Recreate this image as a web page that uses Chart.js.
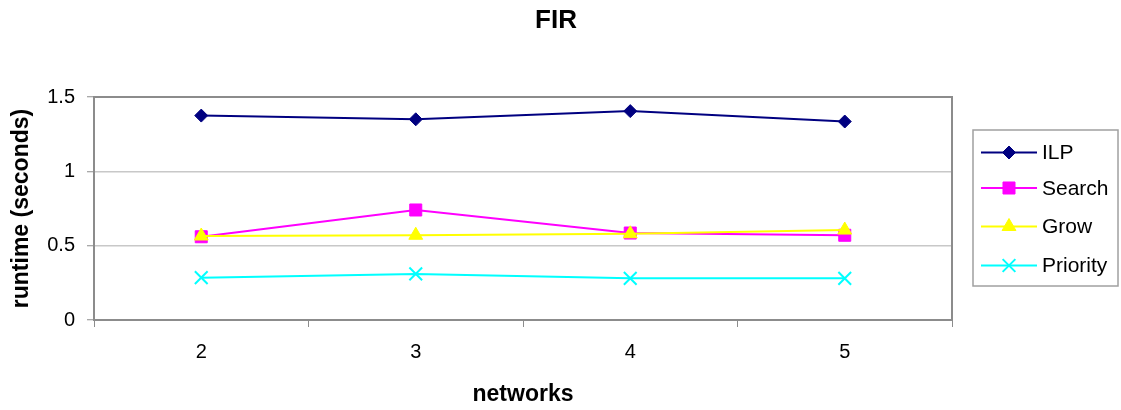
<!DOCTYPE html>
<html>
<head>
<meta charset="utf-8">
<script src="https://cdn.jsdelivr.net/npm/chart.js@4/dist/chart.umd.min.js"></script>
<style>
  html, body { margin: 0; padding: 0; background: #ffffff; }
  #wrap { width: 1121px; height: 410px; }
</style>
</head>
<body>
<div id="wrap"><canvas id="c" width="1121" height="410"></canvas></div>
<script>
// Runtime per number of networks for the FIR benchmark
const categories = ['2', '3', '4', '5'];
const ilp      = [1.375, 1.35, 1.405, 1.335];
const search   = [0.56, 0.74, 0.585, 0.57];
const grow     = [0.565, 0.57, 0.58, 0.605];
const priority = [0.285, 0.31, 0.28, 0.28];
const yTicks   = [0, 0.5, 1, 1.5];
const chartTitle = 'FIR';

const FONT = "'Liberation Sans', Arial, sans-serif";

// Chart heading, centred over the whole figure
const heading = {
  id: 'heading',
  afterDraw(chart) {
    const ctx = chart.ctx;
    ctx.save();
    ctx.fillStyle = '#000000';
    ctx.font = 'bold 26px ' + FONT;
    ctx.textAlign = 'center';
    ctx.textBaseline = 'middle';
    ctx.fillText(chartTitle, 556, 21);
    ctx.restore();
  }
};

// Legend drawn as line + marker swatches inside a framed box
const boxLegend = {
  id: 'boxLegend',
  afterDraw(chart) {
    const ctx = chart.ctx;
    const x0 = 973, y0 = 130, w = 145, h = 156;
    ctx.save();
    ctx.fillStyle = '#ffffff';
    ctx.fillRect(x0, y0, w, h);
    ctx.strokeStyle = '#a0a0a0';
    ctx.lineWidth = 1.5;
    ctx.strokeRect(x0, y0, w, h);
    const rows = [152.5, 188, 226.5, 265.5];
    chart.data.datasets.forEach((ds, i) => {
      const y = rows[i];
      ctx.strokeStyle = ds.borderColor;
      ctx.lineWidth = ds.borderWidth;
      ctx.beginPath();
      ctx.moveTo(981, y);
      ctx.lineTo(1037, y);
      ctx.stroke();
      ctx.fillStyle = ds.pointBackgroundColor;
      ctx.strokeStyle = ds.pointBorderColor;
      ctx.lineWidth = ds.pointBorderWidth;
      Chart.helpers.drawPoint(ctx, {
        pointStyle: ds.pointStyle,
        radius: ds.pointRadius,
        borderWidth: ds.pointBorderWidth,
        rotation: 0
      }, 1009, y);
      ctx.fillStyle = '#000000';
      ctx.font = '21px ' + FONT;
      ctx.textBaseline = 'middle';
      ctx.textAlign = 'left';
      ctx.fillText(ds.label, 1042, y + 1);
    });
    ctx.restore();
  }
};

// Top and right edges of the plot frame
const plotFrame = {
  id: 'plotFrame',
  beforeDatasetsDraw(chart) {
    const a = chart.chartArea;
    const ctx = chart.ctx;
    ctx.save();
    ctx.strokeStyle = '#8c8c8c';
    ctx.lineWidth = 2;
    ctx.beginPath();
    ctx.moveTo(a.left, a.top);
    ctx.lineTo(a.right, a.top);
    ctx.lineTo(a.right, a.bottom);
    ctx.stroke();
    ctx.restore();
  }
};

function series(label, data, color, style, radius, order) {
  return {
    label, data, order,
    borderColor: color,
    backgroundColor: color,
    borderWidth: 2,
    pointStyle: style,
    pointRadius: radius,
    pointHoverRadius: radius,
    pointBackgroundColor: color,
    pointBorderColor: color,
    pointBorderWidth: style === 'crossRot' ? 2 : 1,
    tension: 0,
    fill: false
  };
}

new Chart(document.getElementById('c'), {
  type: 'line',
  data: {
    labels: categories,
    datasets: [
      series('ILP', ilp, '#000080', 'rectRot', 6.5, 4),
      series('Search', search, '#ff00ff', 'rect', 8.5, 3),
      series('Grow', grow, '#ffff00', 'triangle', 8, 2),
      series('Priority', priority, '#00ffff', 'crossRot', 9, 1)
    ]
  },
  options: {
    responsive: false,
    animation: false,
    devicePixelRatio: 1,
    layout: { padding: { left: 0, right: 169, top: 97, bottom: 0 } },
    plugins: {
      legend: { display: false },
      tooltip: { enabled: false },
      title: { display: false }
    },
    scales: {
      x: {
        type: 'category',
        offset: true,
        grid: {
          offset: true,
          drawOnChartArea: false,
          drawTicks: true,
          tickLength: 7,
          tickColor: '#8c8c8c',
          tickWidth: 1
        },
        border: { color: '#8c8c8c', width: 2 },
        ticks: {
          color: '#000000',
          font: { family: FONT, size: 20 },
          padding: 13,
          maxRotation: 0
        },
        title: {
          display: true,
          text: 'networks',
          color: '#000000',
          font: { family: FONT, size: 23, weight: 'bold' },
          padding: { top: 0, bottom: 2 }
        },
        afterFit(s) { s.height = 90; }
      },
      y: {
        min: 0,
        max: 1.5,
        afterBuildTicks(s) { s.ticks = yTicks.map(v => ({ value: v })); },
        grid: {
          color: '#c8c8c8',
          lineWidth: 1.5,
          drawTicks: true,
          tickLength: 7,
          tickColor: '#8c8c8c',
          tickWidth: 1
        },
        border: { color: '#8c8c8c', width: 2 },
        ticks: {
          color: '#000000',
          font: { family: FONT, size: 20 },
          padding: 12,
          callback: v => String(v)
        },
        title: {
          display: true,
          text: 'runtime (seconds)',
          color: '#000000',
          font: { family: FONT, size: 23, weight: 'bold' },
          padding: { top: 8, bottom: 0 }
        },
        afterFit(s) { s.width = 94; }
      }
    }
  },
  plugins: [plotFrame, boxLegend, heading]
});
</script>
</body>
</html>
